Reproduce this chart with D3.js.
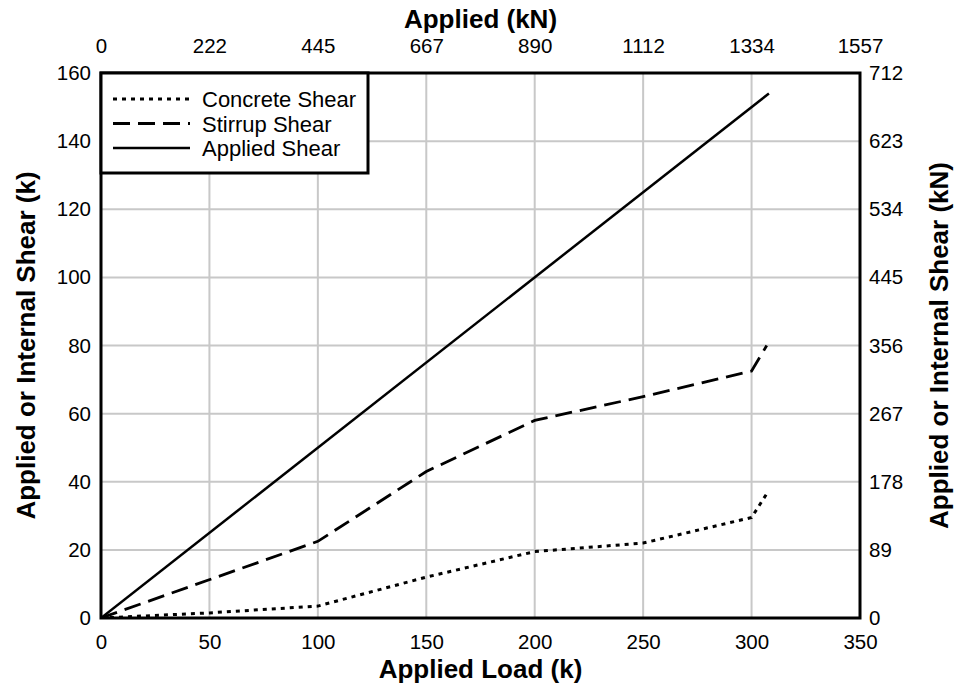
<!DOCTYPE html>
<html><head><meta charset="utf-8">
<script src="https://cdn.jsdelivr.net/npm/d3@7"></script>
<style>body{margin:0;background:#fff}svg{display:block}text{font-family:"Liberation Sans",Arial,sans-serif}</style>
</head><body><svg id="c" width="958" height="692"></svg>
<script>
const xTicks=[0,50,100,150,200,250,300,350];
const yTicks=[0,20,40,60,80,100,120,140,160];
const topLabels=["0","222","445","667","890","1112","1334","1557"];
const rightLabels=["0","89","178","267","356","445","534","623","712"];
const concreteX=[0,50,100,150,200,250,300,307];
const concreteY=[0,1.5,3.5,12,19.5,22,29.5,36.5];
const stirrupX=[0,100,150,200,250,300,307];
const stirrupY=[0,22.5,43,58,65,72.5,80];
const appliedX=[0,308];
const appliedY=[0,154];
const seriesNames=["Concrete Shear","Stirrup Shear","Applied Shear"];

(function(){
const svg=d3.select("#c");
const L=101,R=860,T=73,B=618;
const x=d3.scaleLinear().domain([0,350]).range([L,R]);
const y=d3.scaleLinear().domain([0,160]).range([B,T]);

svg.append("g").selectAll("line").data(xTicks.slice(1,-1)).join("line")
 .attr("x1",d=>x(d)).attr("x2",d=>x(d)).attr("y1",T).attr("y2",B).attr("stroke","#c8c8c8").attr("stroke-width",2);
svg.append("g").selectAll("line").data(yTicks.slice(1,-1)).join("line")
 .attr("y1",d=>y(d)).attr("y2",d=>y(d)).attr("x1",L).attr("x2",R).attr("stroke","#c8c8c8").attr("stroke-width",2);

const fs="20.5px";
const gB=svg.append("g").attr("transform",`translate(0,${B})`).call(d3.axisBottom(x).tickValues(xTicks).tickSize(0).tickPadding(16));
const gT=svg.append("g").attr("transform",`translate(0,${T})`).call(d3.axisTop(x).tickValues(xTicks).tickSize(0).tickPadding(20).tickFormat((d,i)=>topLabels[i]));
const gL=svg.append("g").attr("transform",`translate(${L},0)`).call(d3.axisLeft(y).tickValues(yTicks).tickSize(0).tickPadding(10));
const gR=svg.append("g").attr("transform",`translate(${R},0)`).call(d3.axisRight(y).tickValues(yTicks).tickSize(0).tickPadding(9).tickFormat((d,i)=>rightLabels[i]));
[gB,gT,gL,gR].forEach(g=>{g.select(".domain").remove();g.selectAll("text").attr("font-size",fs).attr("fill","#000").style("font-family","'Liberation Sans',Arial,sans-serif");});

const line=d3.line().x(d=>x(d[0])).y(d=>y(d[1]));
svg.append("clipPath").attr("id","cp").append("rect").attr("x",L).attr("y",T).attr("width",R-L).attr("height",B-T);
const g=svg.append("g").attr("clip-path","url(#cp)");
const styles=[{dash:"4,5",w:3},{dash:"17,8",w:2.8},{dash:null,w:2.5}];
const data=[d3.zip(concreteX,concreteY),d3.zip(stirrupX,stirrupY),d3.zip(appliedX,appliedY)];
data.forEach((d,i)=>{g.append("path").datum(d).attr("d",line).attr("fill","none").attr("stroke","#000")
 .attr("stroke-width",styles[i].w).attr("stroke-dasharray",styles[i].dash);});

svg.append("rect").attr("x",L).attr("y",T).attr("width",R-L).attr("height",B-T).attr("fill","none").attr("stroke","#000").attr("stroke-width",3);

const lg=svg.append("g");
lg.append("rect").attr("x",L).attr("y",T).attr("width",267).attr("height",100).attr("fill","#fff").attr("stroke","#000").attr("stroke-width",3);
seriesNames.forEach((n,i)=>{
 const yy=99+i*24.5;
 lg.append("line").attr("x1",113).attr("x2",190).attr("y1",yy).attr("y2",yy).attr("stroke","#000")
  .attr("stroke-width",styles[i].w).attr("stroke-dasharray",styles[i].dash);
 lg.append("text").attr("x",202).attr("y",yy+8).attr("font-size","22px").text(n);
});

svg.append("text").attr("x",(L+R)/2).attr("y",28).attr("text-anchor","middle").attr("font-size","26px").attr("font-weight","bold").text("Applied (kN)");
svg.append("text").attr("x",(L+R)/2).attr("y",678).attr("text-anchor","middle").attr("font-size","26px").attr("font-weight","bold").text("Applied Load (k)");
svg.append("text").attr("transform",`translate(35,${(T+B)/2}) rotate(-90)`).attr("text-anchor","middle").attr("font-size","26px").attr("font-weight","bold").text("Applied or Internal Shear (k)");
svg.append("text").attr("transform",`translate(948,${(T+B)/2}) rotate(-90)`).attr("text-anchor","middle").attr("font-size","26px").attr("font-weight","bold").text("Applied or Internal Shear (kN)");
})();
</script></body></html>
